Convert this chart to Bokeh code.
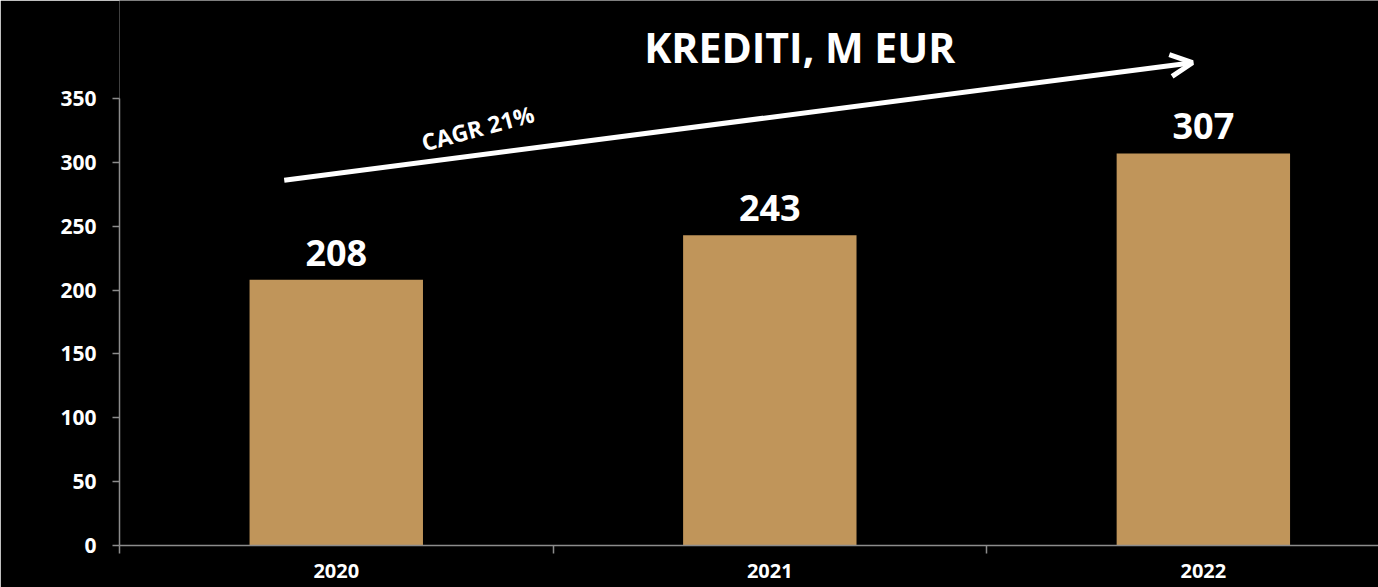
from bokeh.plotting import figure
from bokeh.models import (ColumnDataSource, FixedTicker, Range1d, Arrow, OpenHead,
                          Label)
from bokeh.core.properties import value
from bokeh.embed import file_html
from bokeh.resources import INLINE

# ---- data ----
years = ["2020", "2021", "2022"]
credits = [208, 243, 307]
title_text = "KREDITI, M EUR"
cagr_text = "CAGR 21%"
y_ticks = [0, 50, 100, 150, 200, 250, 300, 350]

# arrow anchors (data units)
arrow_start = (-0.12, 286)
arrow_end = (1.975, 378)

FONT = "Open Sans"
BAR = "#C0955A"
AXIS = "#8C8C8C"

xs = list(range(len(years)))
src = ColumnDataSource(dict(x=xs, y=credits, lbl=[str(v) for v in credits]))

p = figure(width=1378, height=587, output_backend="svg", toolbar_location=None,
           x_range=Range1d(-0.5, 2.404), y_range=Range1d(0, 426.7),
           min_border_left=119, min_border_right=0, min_border_top=0,
           min_border_bottom=42)
p.background_fill_color = "black"
p.border_fill_color = "black"
p.outline_line_color = None
p.grid.visible = False

p.vbar(x="x", top="y", width=0.4, source=src, fill_color=BAR, line_color=None)

p.text(x="x", y="y", text="lbl", source=src, y_offset=-14,
       text_align="center", text_baseline="bottom", text_color="white",
       text_font=value(FONT), text_font_style="bold", text_font_size="36px")

# y axis
ya = p.yaxis[0]
ya.ticker = FixedTicker(ticks=y_ticks)
ya.bounds = (0, 350)
ya.axis_line_color = AXIS
ya.axis_line_width = 1.5
ya.major_tick_line_color = AXIS
ya.major_tick_line_width = 1.5
ya.major_tick_out = 7
ya.major_tick_in = 0
ya.minor_tick_line_color = None
ya.major_label_standoff = 16
ya.major_label_text_color = "white"
ya.major_label_text_font = FONT
ya.major_label_text_font_style = "bold"
ya.major_label_text_font_size = "21px"

# x axis
xa = p.xaxis[0]
xa.ticker = FixedTicker(ticks=xs, minor_ticks=[-0.5, 0.5, 1.5, 2.5])
xa.major_label_overrides = {i: y for i, y in enumerate(years)}
xa.axis_line_color = AXIS
xa.axis_line_width = 1.5
xa.major_tick_line_color = None
xa.minor_tick_line_color = AXIS
xa.minor_tick_line_width = 1.5
xa.minor_tick_out = 8
xa.minor_tick_in = 0
xa.major_label_standoff = 10
xa.major_label_text_color = "white"
xa.major_label_text_font = FONT
xa.major_label_text_font_style = "bold"
xa.major_label_text_font_size = "20px"

# CAGR arrow
p.add_layout(Arrow(x_start=arrow_start[0], y_start=arrow_start[1],
                   x_end=arrow_end[0], y_end=arrow_end[1],
                   line_color="white", line_width=5,
                   end=OpenHead(line_color="white", line_width=5, size=22)))

p.add_layout(Label(x=0.326, y=327, text=cagr_text, angle=15, angle_units="deg",
                   text_align="center", text_baseline="middle", text_color="white",
                   text_font=FONT, text_font_style="bold", text_font_size="23px"))

p.add_layout(Label(x=1.069, y=390, text=title_text, text_align="center",
                   text_baseline="middle", text_color="white", text_font=FONT,
                   text_font_style="bold", text_font_size="41px"))

open("out.html", "w").write(file_html(p, INLINE))
